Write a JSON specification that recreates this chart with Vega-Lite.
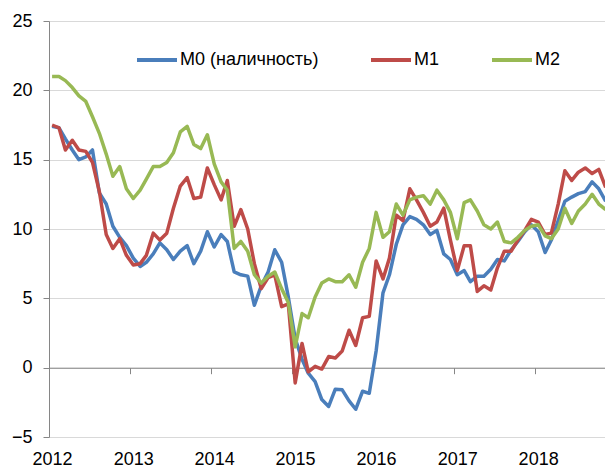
{
  "$schema": "https://vega.github.io/schema/vega-lite/v6.json",
  "width": 556,
  "height": 416,
  "autosize": {"type": "none"},
  "padding": {"left": 49, "top": 21, "right": 0, "bottom": 31},
  "background": "white",
  "config": {"font": "Liberation Sans", "view": {"stroke": null}},
  "data": {"values": [
    {"date": "2012-01-15", "M0 (наличность)": 17.4, "M1": 17.5, "M2": 21.0},
    {"date": "2012-02-15", "M0 (наличность)": 17.3, "M1": 17.3, "M2": 21.0},
    {"date": "2012-03-15", "M0 (наличность)": 16.5, "M1": 15.7, "M2": 20.7},
    {"date": "2012-04-15", "M0 (наличность)": 15.7, "M1": 16.4, "M2": 20.2},
    {"date": "2012-05-15", "M0 (наличность)": 15.0, "M1": 15.7, "M2": 19.6},
    {"date": "2012-06-15", "M0 (наличность)": 15.2, "M1": 15.6, "M2": 19.2},
    {"date": "2012-07-15", "M0 (наличность)": 15.7, "M1": 14.8, "M2": 18.1},
    {"date": "2012-08-15", "M0 (наличность)": 12.6, "M1": 12.7, "M2": 16.9},
    {"date": "2012-09-15", "M0 (наличность)": 11.8, "M1": 9.6, "M2": 15.4},
    {"date": "2012-10-15", "M0 (наличность)": 10.2, "M1": 8.6, "M2": 13.8},
    {"date": "2012-11-15", "M0 (наличность)": 9.4, "M1": 9.3, "M2": 14.5},
    {"date": "2012-12-15", "M0 (наличность)": 8.8, "M1": 8.1, "M2": 12.9},
    {"date": "2013-01-15", "M0 (наличность)": 7.9, "M1": 7.4, "M2": 12.2},
    {"date": "2013-02-15", "M0 (наличность)": 7.3, "M1": 7.5, "M2": 12.8},
    {"date": "2013-03-15", "M0 (наличность)": 7.6, "M1": 8.1, "M2": 13.6},
    {"date": "2013-04-15", "M0 (наличность)": 8.2, "M1": 9.7, "M2": 14.5},
    {"date": "2013-05-15", "M0 (наличность)": 9.0, "M1": 9.2, "M2": 14.5},
    {"date": "2013-06-15", "M0 (наличность)": 8.5, "M1": 9.7, "M2": 14.8},
    {"date": "2013-07-15", "M0 (наличность)": 7.8, "M1": 11.5, "M2": 15.5},
    {"date": "2013-08-15", "M0 (наличность)": 8.4, "M1": 13.1, "M2": 17.0},
    {"date": "2013-09-15", "M0 (наличность)": 8.8, "M1": 13.7, "M2": 17.4},
    {"date": "2013-10-15", "M0 (наличность)": 7.5, "M1": 12.2, "M2": 16.1},
    {"date": "2013-11-15", "M0 (наличность)": 8.4, "M1": 12.3, "M2": 15.8},
    {"date": "2013-12-15", "M0 (наличность)": 9.8, "M1": 14.4, "M2": 16.8},
    {"date": "2014-01-15", "M0 (наличность)": 8.7, "M1": 13.2, "M2": 14.7},
    {"date": "2014-02-15", "M0 (наличность)": 9.6, "M1": 12.1, "M2": 13.4},
    {"date": "2014-03-15", "M0 (наличность)": 9.1, "M1": 13.5, "M2": 12.8},
    {"date": "2014-04-15", "M0 (наличность)": 6.9, "M1": 10.2, "M2": 8.6},
    {"date": "2014-05-15", "M0 (наличность)": 6.7, "M1": 11.4, "M2": 9.1},
    {"date": "2014-06-15", "M0 (наличность)": 6.6, "M1": 10.0, "M2": 8.4},
    {"date": "2014-07-15", "M0 (наличность)": 4.5, "M1": 7.5, "M2": 6.7},
    {"date": "2014-08-15", "M0 (наличность)": 5.9, "M1": 5.7, "M2": 6.1},
    {"date": "2014-09-15", "M0 (наличность)": 6.9, "M1": 6.5, "M2": 6.6},
    {"date": "2014-10-15", "M0 (наличность)": 8.5, "M1": 6.7, "M2": 6.9},
    {"date": "2014-11-15", "M0 (наличность)": 7.6, "M1": 4.4, "M2": 5.7},
    {"date": "2014-12-15", "M0 (наличность)": 5.1, "M1": 4.6, "M2": 4.7},
    {"date": "2015-01-15", "M0 (наличность)": 2.1, "M1": -1.1, "M2": 1.5},
    {"date": "2015-02-15", "M0 (наличность)": 0.6, "M1": 1.75, "M2": 3.9},
    {"date": "2015-03-15", "M0 (наличность)": -0.4, "M1": -0.3, "M2": 3.6},
    {"date": "2015-04-15", "M0 (наличность)": -1.0, "M1": 0.1, "M2": 5.1},
    {"date": "2015-05-15", "M0 (наличность)": -2.3, "M1": -0.1, "M2": 6.1},
    {"date": "2015-06-15", "M0 (наличность)": -2.8, "M1": 0.8, "M2": 6.4},
    {"date": "2015-07-15", "M0 (наличность)": -1.55, "M1": 0.7, "M2": 6.2},
    {"date": "2015-08-15", "M0 (наличность)": -1.6, "M1": 1.2, "M2": 6.2},
    {"date": "2015-09-15", "M0 (наличность)": -2.4, "M1": 2.7, "M2": 6.7},
    {"date": "2015-10-15", "M0 (наличность)": -3.0, "M1": 1.6, "M2": 5.8},
    {"date": "2015-11-15", "M0 (наличность)": -1.7, "M1": 3.6, "M2": 7.6},
    {"date": "2015-12-15", "M0 (наличность)": -1.85, "M1": 3.7, "M2": 8.6},
    {"date": "2016-01-15", "M0 (наличность)": 1.2, "M1": 7.7, "M2": 11.2},
    {"date": "2016-02-15", "M0 (наличность)": 5.4, "M1": 6.4, "M2": 9.4},
    {"date": "2016-03-15", "M0 (наличность)": 6.7, "M1": 7.9, "M2": 9.8},
    {"date": "2016-04-15", "M0 (наличность)": 8.9, "M1": 11.0, "M2": 11.8},
    {"date": "2016-05-15", "M0 (наличность)": 10.3, "M1": 10.6, "M2": 11.0},
    {"date": "2016-06-15", "M0 (наличность)": 10.9, "M1": 12.9, "M2": 12.1},
    {"date": "2016-07-15", "M0 (наличность)": 10.7, "M1": 12.1, "M2": 12.3},
    {"date": "2016-08-15", "M0 (наличность)": 10.3, "M1": 11.2, "M2": 12.4},
    {"date": "2016-09-15", "M0 (наличность)": 9.6, "M1": 10.2, "M2": 11.8},
    {"date": "2016-10-15", "M0 (наличность)": 9.9, "M1": 10.5, "M2": 12.8},
    {"date": "2016-11-15", "M0 (наличность)": 8.2, "M1": 11.5, "M2": 12.1},
    {"date": "2016-12-15", "M0 (наличность)": 7.8, "M1": 9.2, "M2": 11.2},
    {"date": "2017-01-15", "M0 (наличность)": 6.7, "M1": 7.0, "M2": 9.3},
    {"date": "2017-02-15", "M0 (наличность)": 7.0, "M1": 8.8, "M2": 11.9},
    {"date": "2017-03-15", "M0 (наличность)": 6.2, "M1": 8.8, "M2": 12.1},
    {"date": "2017-04-15", "M0 (наличность)": 6.6, "M1": 5.5, "M2": 11.3},
    {"date": "2017-05-15", "M0 (наличность)": 6.6, "M1": 5.9, "M2": 10.3},
    {"date": "2017-06-15", "M0 (наличность)": 7.1, "M1": 5.6, "M2": 10.0},
    {"date": "2017-07-15", "M0 (наличность)": 7.8, "M1": 7.2, "M2": 10.5},
    {"date": "2017-08-15", "M0 (наличность)": 7.7, "M1": 8.4, "M2": 9.1},
    {"date": "2017-09-15", "M0 (наличность)": 8.5, "M1": 8.4, "M2": 9.0},
    {"date": "2017-10-15", "M0 (наличность)": 9.1, "M1": 9.2, "M2": 9.4},
    {"date": "2017-11-15", "M0 (наличность)": 9.8, "M1": 9.9, "M2": 9.9},
    {"date": "2017-12-15", "M0 (наличность)": 10.3, "M1": 10.7, "M2": 10.2},
    {"date": "2018-01-15", "M0 (наличность)": 9.8, "M1": 10.5, "M2": 10.3},
    {"date": "2018-02-15", "M0 (наличность)": 8.3, "M1": 9.6, "M2": 9.5},
    {"date": "2018-03-15", "M0 (наличность)": 9.2, "M1": 9.7, "M2": 9.3},
    {"date": "2018-04-15", "M0 (наличность)": 10.6, "M1": 11.8, "M2": 10.0},
    {"date": "2018-05-15", "M0 (наличность)": 12.0, "M1": 14.2, "M2": 11.5},
    {"date": "2018-06-15", "M0 (наличность)": 12.3, "M1": 13.5, "M2": 10.4},
    {"date": "2018-07-15", "M0 (наличность)": 12.55, "M1": 14.1, "M2": 11.3},
    {"date": "2018-08-15", "M0 (наличность)": 12.7, "M1": 14.4, "M2": 11.8},
    {"date": "2018-09-15", "M0 (наличность)": 13.4, "M1": 14.0, "M2": 12.5},
    {"date": "2018-10-15", "M0 (наличность)": 12.9, "M1": 14.3, "M2": 11.8},
    {"date": "2018-11-15", "M0 (наличность)": 12.0, "M1": 13.0, "M2": 11.4}
  ]},
  "transform": [{"fold": ["M0 (наличность)", "M1", "M2"], "as": ["series", "value"]}],
  "mark": {"type": "line", "strokeWidth": 3.5, "clip": true, "strokeJoin": "round"},
  "encoding": {
    "x": {
      "field": "date",
      "type": "temporal",
      "scale": {"type": "utc", "domain": [{"year": 2012, "month": 1, "date": 1, "utc": true}, {"year": 2018, "month": 11, "date": 12, "utc": true}]},
      "axis": {
        "values": [
          {"year": 2012, "month": 1, "date": 1, "utc": true},
          {"year": 2013, "month": 1, "date": 1, "utc": true},
          {"year": 2014, "month": 1, "date": 1, "utc": true},
          {"year": 2015, "month": 1, "date": 1, "utc": true},
          {"year": 2016, "month": 1, "date": 1, "utc": true},
          {"year": 2017, "month": 1, "date": 1, "utc": true},
          {"year": 2018, "month": 1, "date": 1, "utc": true}
        ],
        "format": "%Y",
        "offset": -69.3,
        "grid": false,
        "title": null,
        "domainColor": "#868686",
        "domainWidth": 1,
        "tickColor": "#868686",
        "tickSize": 6,
        "labelPadding": 77,
        "labelFontSize": 18,
        "labelColor": "#000000",
        "labelOffset": 3,
        "labelOverlap": false,
        "labelFlush": false
      }
    },
    "y": {
      "field": "value",
      "type": "quantitative",
      "scale": {"domain": [-5, 25], "nice": false, "zero": false},
      "axis": {
        "values": [-5, 0, 5, 10, 15, 20, 25],
        "title": null,
        "grid": true,
        "gridColor": "#d9d9d9",
        "gridWidth": 1,
        "domainColor": "#868686",
        "tickColor": "#868686",
        "tickSize": 6,
        "labelFontSize": 18,
        "labelColor": "#000000",
        "labelPadding": 11
      }
    },
    "color": {
      "field": "series",
      "type": "nominal",
      "scale": {"domain": ["M0 (наличность)", "M1", "M2"], "range": ["#4A7EBB", "#BE4B48", "#98B954"]},
      "legend": {
        "orient": "none",
        "legendX": 86,
        "legendY": 17,
        "direction": "horizontal",
        "title": null,
        "symbolType": "stroke",
        "symbolSize": 1600,
        "symbolStrokeWidth": 4,
        "labelFontSize": 18,
        "labelColor": "#000000",
        "labelOffset": 1,
        "columnPadding": 44,
        "padding": 0,
        "labelLimit": 300
      }
    }
  }
}
